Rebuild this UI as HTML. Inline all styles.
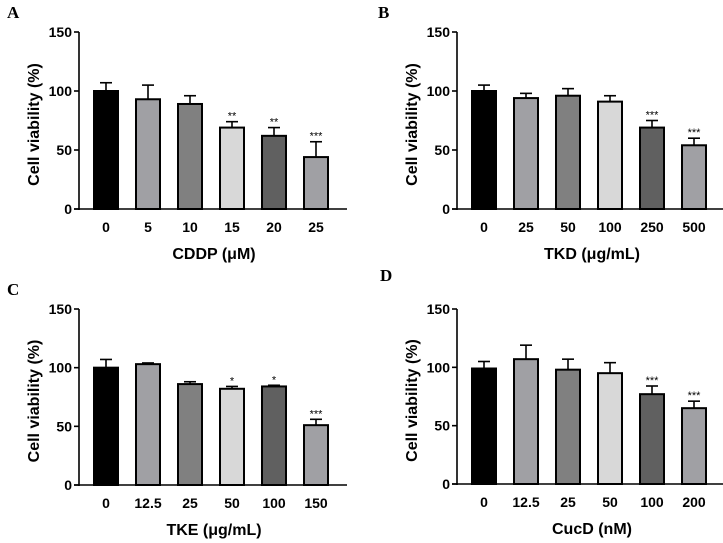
<!DOCTYPE html>
<html><head><meta charset="utf-8"><style>
html,body{margin:0;padding:0;background:#fff;width:723px;height:543px;overflow:hidden}
svg{display:block;font-family:"Liberation Sans",Arial,sans-serif}
</style></head><body>
<svg id="fig" width="723" height="543" viewBox="0 0 723 543"></svg>
<script>
const catsA=["0","5","10","15","20","25"];
const valsA=[100,93,89,69,62,44];
const errA=[7,12,7,5,7,13];
const starsA=["","","","**","**","***"];
const catsB=["0","25","50","100","250","500"];
const valsB=[100,94,96,91,69,54];
const errB=[5,4,6,5,6,6];
const starsB=["","","","","***","***"];
const catsC=["0","12.5","25","50","100","150"];
const valsC=[100,103,86,82,84,51];
const errC=[7,1,2,2,1,5];
const starsC=["","","","*","*","***"];
const catsD=["0","12.5","25","50","100","200"];
const valsD=[99,107,98,95,77,65];
const errD=[6,12,9,9,7,6];
const starsD=["","","","","***","***"];
const yTicks=[0,50,100,150];
const fills=["#000000","#a0a0a4","#808080","#d8d8d8","#606060","#a0a0a4"];

const NS="http://www.w3.org/2000/svg";
const svg=document.getElementById('fig');
function mk(tag,attrs,parent,text){const e=document.createElementNS(NS,tag);for(const k in attrs)e.setAttribute(k,attrs[k]);if(text!==undefined)e.textContent=text;(parent||svg).appendChild(e);return e;}

function panel(id,letter,lx,ly,ax,y0,y150,cats,vals,errs,stars,xtitle){
  const g=mk('g',{});
  
  
  const yS=v=>y0+(y150-y0)*v/150;
  const step=42, first=ax+27, bw=24;
  const xS=i=>first+i*step;
  const L=mk('text',{x:lx,y:ly,'font-family':'Liberation Serif,serif','font-weight':'bold','font-size':17},g,letter);
  
  
  const ya=mk('line',{x1:ax,y1:y150,x2:ax,y2:y0+1,stroke:'#000','stroke-width':1.6},g);
  
  
  const xa=mk('line',{x1:ax-5,y1:y0,x2:ax+268,y2:y0,stroke:'#000','stroke-width':1.6},g);
  
  
  yTicks.forEach(t=>{
    mk('line',{x1:ax-5,y1:yS(t),x2:ax,y2:yS(t),stroke:'#000','stroke-width':1.6},g);
    const tl=mk('text',{x:ax-7,y:yS(t)+5,'text-anchor':'end','font-weight':'bold','font-size':14},g,String(t));
    
    
  });
  const yt=mk('text',{x:0,y:0,transform:`translate(${ax-40},${(y0+y150)/2+4}) rotate(-90)`,'text-anchor':'middle','font-weight':'bold','font-size':16},g,'Cell viability (%)');
  
  
  vals.forEach((v,i)=>{
    const cx=xS(i);
    const e=mk('line',{x1:cx,y1:yS(v),x2:cx,y2:yS(v+errs[i]),stroke:'#000','stroke-width':1.6},g);
    
    
    mk('line',{x1:cx-6,y1:yS(v+errs[i]),x2:cx+6,y2:yS(v+errs[i]),stroke:'#000','stroke-width':1.6},g);
    const b=mk('rect',{x:cx-bw/2,y:yS(v),width:bw,height:y0-yS(v),fill:fills[i],stroke:'#000','stroke-width':2},g);
    
    
    if(stars[i]){
      const s=mk('text',{x:cx,y:yS(v+errs[i])-2,'text-anchor':'middle','font-size':11},g,stars[i]);
      
      
    }
    const xl=mk('text',{x:cx,y:y0+23,'text-anchor':'middle','font-weight':'bold','font-size':14},g,cats[i]);
    
    
  });
  const xt=mk('text',{x:ax+135,y:y0+50,'text-anchor':'middle','font-weight':'bold','font-size':16},g,xtitle);
  
  
}
panel('a','A',7,18,79,209,32,catsA,valsA,errA,starsA,'CDDP (\u03bcM)');
panel('b','B',378,18,457,209,32,catsB,valsB,errB,starsB,'TKD (\u03bcg/mL)');
panel('c','C',7,295,79,485,309,catsC,valsC,errC,starsC,'TKE (\u03bcg/mL)');
panel('d','D',380,281,457,484,309,catsD,valsD,errD,starsD,'CucD (nM)');
</script>
</body></html>
